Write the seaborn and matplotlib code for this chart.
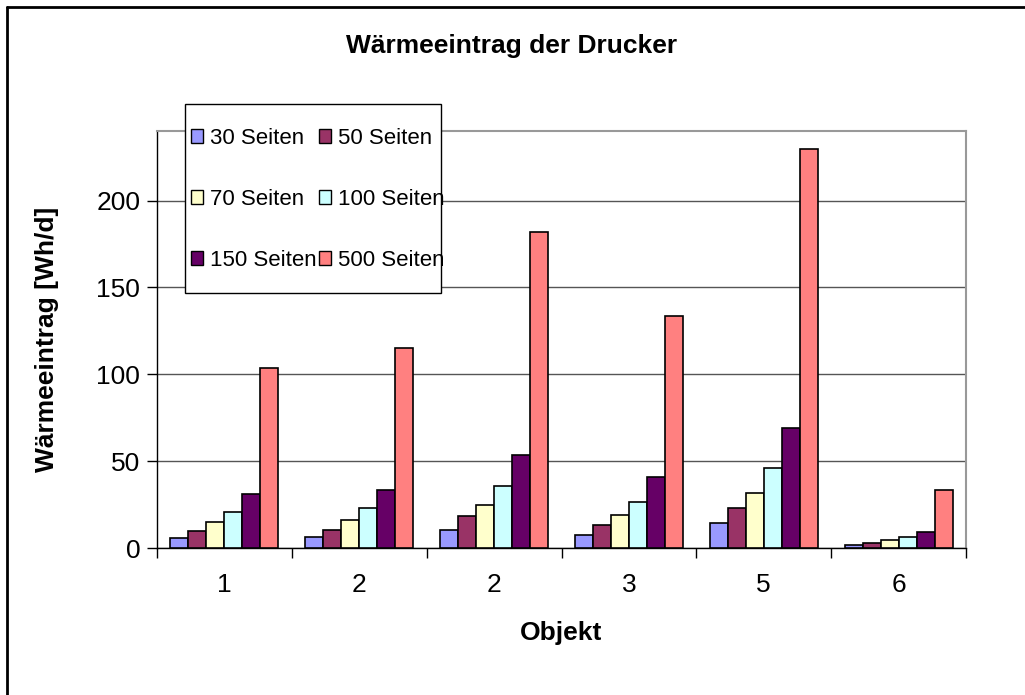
import pandas as pd
import numpy as np
import matplotlib
matplotlib.use('Agg')
import matplotlib.pyplot as plt
import seaborn as sns
from matplotlib.lines import Line2D
from matplotlib.patches import Rectangle

sns.set_theme(style='white')
plt.rcParams['font.family'] = ['Liberation Sans', 'DejaVu Sans']
plt.rcParams['text.color'] = 'black'
plt.rcParams['axes.labelcolor'] = 'black'
plt.rcParams['xtick.color'] = 'black'
plt.rcParams['ytick.color'] = 'black'

# Daten
objekte = ['1', '2', '2', '3', '5', '6']
serien = ['30 Seiten', '50 Seiten', '70 Seiten', '100 Seiten', '150 Seiten', '500 Seiten']
s30 = [5.6, 6.5, 10.4, 7.5, 14.3, 1.9]
s50 = [9.6, 10.4, 18.3, 13.5, 22.9, 2.8]
s70 = [15.2, 16.2, 24.8, 19.2, 31.6, 4.6]
s100 = [21.0, 22.9, 35.4, 26.7, 46.0, 6.5]
s150 = [30.8, 33.5, 53.7, 40.6, 69.1, 9.4]
s500 = [103.7, 115.3, 182.0, 133.5, 229.8, 33.5]
farben = ['#9999FF', '#993366', '#FFFFCC', '#CCFFFF', '#660066', '#FF8080']

rows = []
for name, vals in zip(serien, [s30, s50, s70, s100, s150, s500]):
    for i, v in enumerate(vals):
        rows.append({'idx': i, 'Serie': name, 'Wert': v})
df = pd.DataFrame(rows)

fig = plt.figure(figsize=(10.25, 6.95), dpi=100)
ax = fig.add_axes([157/1025, 1 - 548/695, (966-157)/1025, (548-131)/695])

sns.barplot(data=df, x='idx', y='Wert', hue='Serie', hue_order=serien,
            palette=farben, saturation=1, edgecolor='black', linewidth=1.2,
            width=0.8, ax=ax, legend=False, zorder=3)

ax.set_ylim(0, 240)
ax.set_xlim(-0.5, len(objekte) - 0.5)
ax.set_yticks([0, 50, 100, 150, 200])
ax.yaxis.grid(True, color='#555555', linewidth=1, zorder=0)
ax.set_axisbelow(True)

# Kategorie-Striche an den Grenzen, Beschriftung mittig
ax.set_xticks(np.arange(-0.5, len(objekte), 1.0))
ax.set_xticklabels([])
ax.set_xticks(np.arange(len(objekte)), minor=True)
ax.set_xticklabels(objekte, minor=True)
ax.tick_params(axis='x', which='major', direction='out', length=7, width=1, color='black', bottom=True)
ax.tick_params(axis='x', which='minor', length=0, pad=18, labelsize=19)
ax.tick_params(axis='y', direction='out', length=7, width=1, color='black', left=True, labelsize=19, pad=5)

for side in ['top', 'right']:
    ax.spines[side].set_color('#999999')
    ax.spines[side].set_linewidth(1.5)
for side in ['left', 'bottom']:
    ax.spines[side].set_color('black')
    ax.spines[side].set_linewidth(1)

ax.set_xlabel('Objekt', fontsize=19, fontweight='bold', labelpad=17)
ax.set_ylabel('Wärmeeintrag [Wh/d]', fontsize=19, fontweight='bold', labelpad=27)

fig.text(512/1025, 1 - 46/695, 'Wärmeeintrag der Drucker', ha='center', va='center',
         fontsize=19, fontweight='bold')

# Legendenrahmen (Text ragt wie im Original etwas heraus)
fig.add_artist(Rectangle((185/1025, 1 - 293/695), (441-185)/1025, (293-104)/695,
                         transform=fig.transFigure, facecolor='white', edgecolor='black',
                         linewidth=1, zorder=4))

# Legende (zeilenweise: 30/50, 70/100, 150/500)
handles = [plt.Rectangle((0, 0), 1, 1, facecolor=c, edgecolor='black', linewidth=1) for c in farben]
order = [0, 2, 4, 1, 3, 5]
leg = fig.legend([handles[i] for i in order], [serien[i] for i in order], ncol=2, loc='upper left',
                 bbox_to_anchor=(191/1025, 1 - 128/695), fontsize=16, frameon=False,
                 handlelength=0.55, handleheight=0.55, handletextpad=0.3,
                 columnspacing=0.1, labelspacing=1.8, borderpad=0, borderaxespad=0)
leg.set_zorder(5)

# Rahmen des Diagrammbereichs (nur links und oben sichtbar)
fig.add_artist(Line2D([7/1025, 7/1025], [0, 1 - 7/695], transform=fig.transFigure, color='black', linewidth=2))
fig.add_artist(Line2D([7/1025, 1], [1 - 7/695, 1 - 7/695], transform=fig.transFigure, color='black', linewidth=2))

fig.savefig('out.png', dpi=100)
